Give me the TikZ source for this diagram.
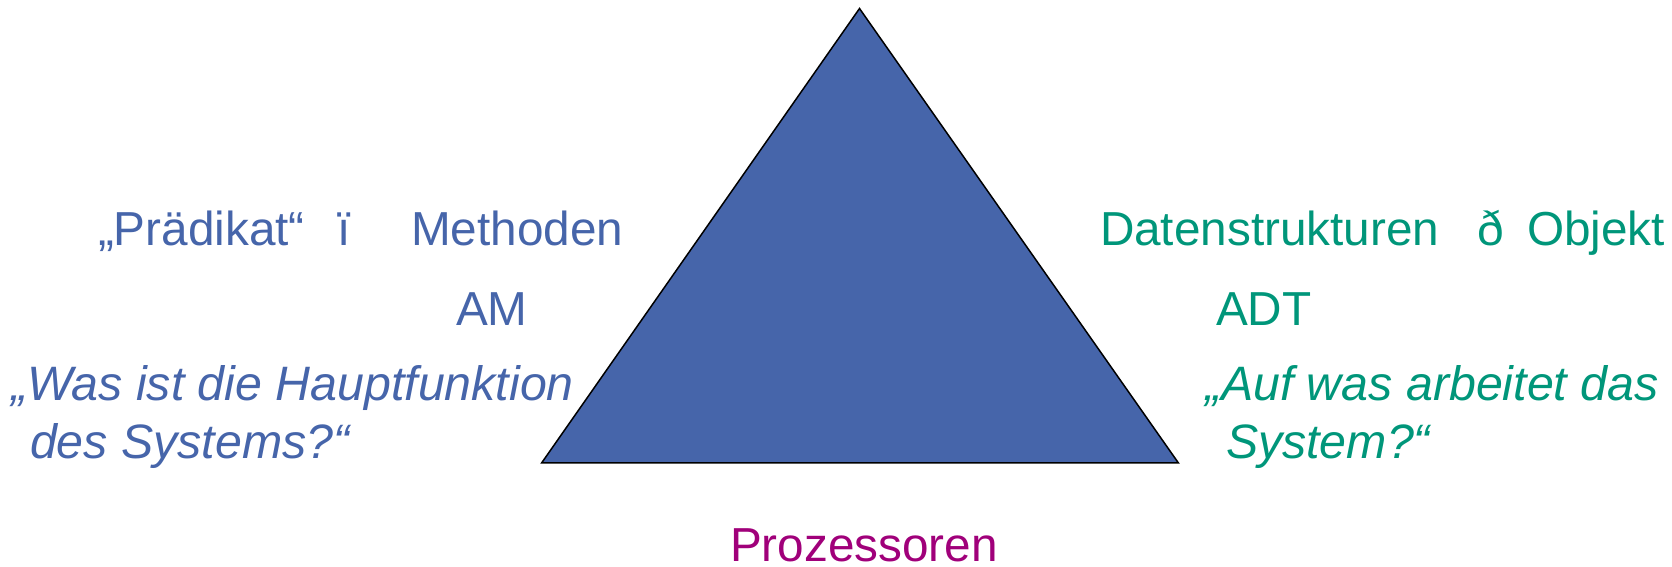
\documentclass[tikz,border=0pt]{standalone}
\usepackage{fontspec}
\setmainfont{Liberation Sans}
\definecolor{triblue}{RGB}{70,101,170}
\definecolor{txtblue}{RGB}{70,101,170}
\definecolor{txtgreen}{RGB}{0,150,122}
\definecolor{txtpurple}{RGB}{160,0,122}
\begin{document}
\begin{tikzpicture}[x=1pt,y=-1pt,
  lbl/.style={anchor=base west,inner sep=0pt,outer sep=0pt,text depth=0pt,font=\fontsize{47.7}{56}\selectfont},
  ital/.style={font=\fontsize{48.3}{56}\selectfont\itshape},
  lblb/.style={lbl,text=txtblue},
  lblg/.style={lbl,text=txtgreen},
  lblp/.style={lbl,text=txtpurple}]
\useasboundingbox (0,0) rectangle (1672,566);
\coordinate (apex) at (859.5,8.5);
\coordinate (bl) at (541.7,462.8);
\coordinate (br) at (1178.3,462.8);
\draw[fill=triblue,line width=1.5pt,line join=miter] (apex) -- (bl) -- (br) -- cycle;
% left
\node[lblb] (pred) at (98,245) {„Prädikat“};
\node[lblb] (arrl) at (337,245) {ï};
\node[lblb] (meth) at (411,245) {Methoden};
\node[lblb] (am) at (456,325) {AM};
\node[lblb,ital] (q1a) at (11,400) {„Was ist die Hauptfunktion};
\node[lblb,ital] (q1b) at (30,458) {des Systems?“};
% right
\node[lblg] (dat) at (1100,245) {Datenstrukturen};
\node[lblg] (arrr) at (1477,245) {ð};
\node[lblg] (obj) at (1527,245) {Objekt};
\node[lblg] (adt) at (1216,325) {ADT};
\node[lblg,ital] (q2a) at (1205,400) {„Auf was arbeitet das};
\node[lblg,ital] (q2b) at (1226,458) {System?“};
% bottom
\node[lblp] (proz) at (730,561) {Prozessoren};
\end{tikzpicture}
\end{document}
